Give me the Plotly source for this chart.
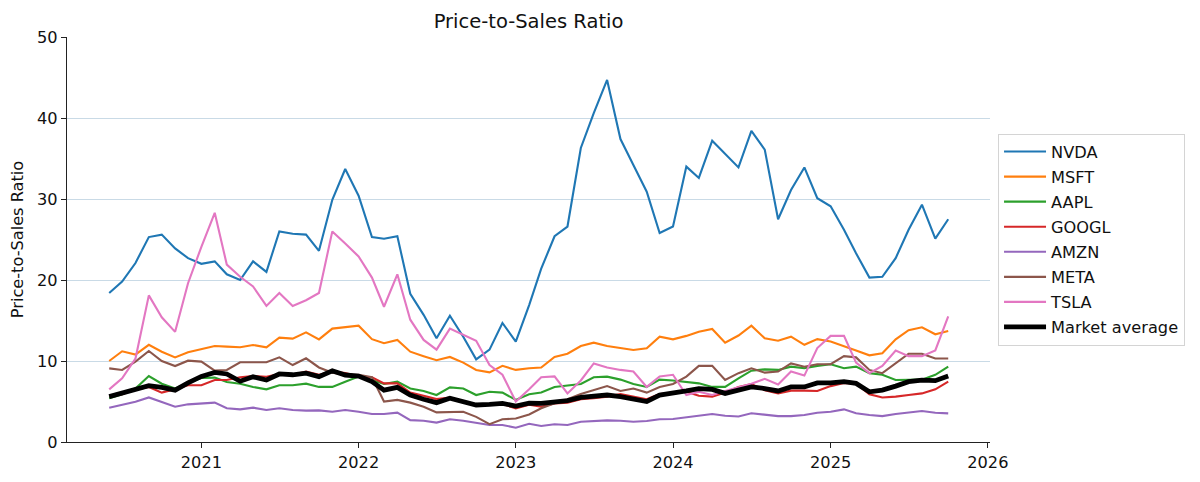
import pandas as pd
import plotly.graph_objects as go

dates = pd.date_range("2020-06-01", periods=65, freq="MS")

nvda = [18.4, 19.8, 22.1, 25.3, 25.6, 23.9, 22.7, 22.0, 22.3, 20.7,
        20.0, 22.3, 21.0, 26.0, 25.7, 25.6, 23.6, 29.9, 33.7, 30.4,
        25.3, 25.1, 25.4, 18.3, 15.7, 12.8, 15.6, 13.0, 10.2, 11.4,
        14.7, 12.4, 16.9, 21.4, 25.4, 26.6, 36.3, 40.6, 44.7, 37.4,
        34.2, 30.9, 25.8, 26.6, 34.0, 32.6, 37.2, 35.6, 33.9, 38.4,
        36.1, 27.5, 31.1, 33.9, 30.1, 29.1, 26.2, 23.3, 20.3, 20.4,
        22.7, 26.2, 29.3, 25.1, 27.5]
msft = [10.0, 11.2, 10.8, 12.0, 11.15, 10.45, 11.07, 11.48, 11.85, 11.77,
        11.69, 11.98, 11.69, 12.88, 12.76, 13.54, 12.67, 14.0, 14.16, 14.36,
        12.7, 12.2, 12.6, 11.15, 10.6, 10.1, 10.5, 9.8, 8.9, 8.6,
        9.4, 8.9, 9.1, 9.2, 10.5, 10.9, 11.85, 12.26, 11.85, 11.56,
        11.36, 11.56, 13.0, 12.67, 13.1, 13.6, 13.95, 12.26, 13.15, 14.36,
        12.8, 12.5, 13.0, 12.0, 12.7, 12.4, 11.85, 11.3, 10.7, 10.95,
        12.67, 13.8, 14.16, 13.3, 13.7]
aapl = [5.4, 5.9, 6.6, 8.15, 7.2, 6.6, 7.3, 7.9, 7.95, 7.4,
        7.2, 6.8, 6.5, 7.0, 7.0, 7.2, 6.8, 6.8, 7.45, 8.07,
        7.65, 7.16, 7.45, 6.6, 6.3, 5.8, 6.75, 6.6, 5.8, 6.2,
        6.1, 5.2, 5.9, 6.1, 6.8, 7.0, 7.16, 8.0, 8.07, 7.7,
        7.16, 6.8, 7.7, 7.6, 7.45, 7.24, 6.8, 6.8, 7.86, 8.8,
        8.97, 8.9, 9.3, 9.1, 9.4, 9.6, 9.1, 9.3, 8.5, 8.3,
        7.65, 7.65, 7.7, 8.3, 9.3]
googl = [5.7, 5.9, 6.5, 6.8, 6.1, 6.5, 7.0, 7.0, 7.65, 7.65,
         8.0, 8.15, 8.05, 8.4, 8.3, 8.7, 8.3, 8.7, 8.5, 8.07,
         8.0, 7.24, 7.24, 6.1, 5.7, 5.3, 5.5, 5.0, 4.6, 4.6,
         4.7, 4.15, 4.6, 4.36, 4.77, 4.86, 5.27, 5.4, 5.6, 5.93,
         5.6, 5.27, 5.93, 6.1, 6.2, 5.7, 5.6, 6.1, 6.8, 7.16,
         6.4, 6.0, 6.34, 6.34, 6.3, 6.9, 7.3, 7.2, 5.9, 5.5,
         5.6, 5.8, 6.0, 6.5, 7.45]
amzn = [4.24, 4.65, 4.98, 5.5, 4.9, 4.36, 4.65, 4.77, 4.86, 4.16,
        4.03, 4.24, 3.95, 4.16, 3.95, 3.87, 3.9, 3.74, 3.95, 3.74,
        3.46, 3.46, 3.62, 2.7, 2.63, 2.4, 2.8, 2.63, 2.4, 2.1,
        2.1, 1.77, 2.25, 1.98, 2.2, 2.1, 2.5, 2.6, 2.67, 2.63,
        2.5, 2.6, 2.8, 2.84, 3.05, 3.33, 3.46, 3.25, 3.15, 3.54,
        3.33, 3.2, 3.2, 3.33, 3.62, 3.74, 4.03, 3.54, 3.33, 3.2,
        3.46, 3.62, 3.83, 3.62, 3.54]
meta = [9.09, 8.89, 9.92, 11.23, 10.0, 9.38, 10.04, 9.92, 8.81, 8.89,
        9.84, 9.84, 9.84, 10.45, 9.5, 10.33, 9.2, 8.56, 8.3, 8.3,
        8.0, 5.0, 5.2, 4.86, 4.36, 3.66, 3.74, 3.74, 3.1, 2.2,
        2.8, 2.9, 3.4, 4.16, 4.77, 5.27, 5.93, 6.4, 6.9, 6.3,
        6.6, 6.1, 6.8, 7.16, 8.07, 9.4, 9.4, 7.65, 8.5, 9.1,
        8.56, 8.7, 9.7, 9.3, 9.6, 9.6, 10.6, 10.45, 8.9, 8.5,
        9.7, 10.9, 10.9, 10.3, 10.3]
tsla = [6.5, 7.86, 10.3, 18.1, 15.4, 13.6, 19.6, 24.1, 28.3, 21.9,
        20.4, 19.2, 16.8, 18.4, 16.8, 17.5, 18.4, 26.0, 24.5, 22.9,
        20.3, 16.7, 20.7, 15.1, 12.6, 11.4, 14.0, 13.2, 12.5, 9.5,
        8.3, 5.0, 6.5, 8.0, 8.1, 6.0, 7.6, 9.7, 9.2, 8.9,
        8.7, 6.8, 8.1, 8.3, 5.8, 6.2, 5.8, 6.3, 6.8, 7.2,
        7.8, 7.1, 8.7, 8.2, 11.6, 13.1, 13.1, 9.8, 8.5, 9.4,
        11.3, 10.6, 10.6, 11.3, 15.5]
market_avg = [5.6, 6.0, 6.4, 6.95, 6.75, 6.4, 7.3, 8.1, 8.6, 8.4,
              7.5, 8.05, 7.65, 8.4, 8.3, 8.5, 8.07, 8.8, 8.27, 8.15,
              7.45, 6.4, 6.75, 5.8, 5.27, 4.86, 5.4, 5.0, 4.57, 4.65,
              4.77, 4.44, 4.8, 4.77, 5.0, 5.1, 5.5, 5.7, 5.8, 5.6,
              5.27, 5.0, 5.8, 6.0, 6.3, 6.6, 6.5, 6.0, 6.4, 6.8,
              6.6, 6.3, 6.8, 6.8, 7.3, 7.3, 7.45, 7.24, 6.2, 6.4,
              6.9, 7.45, 7.65, 7.57, 8.15]

series = [("NVDA", nvda, "#1f77b4"), ("MSFT", msft, "#ff7f0e"),
          ("AAPL", aapl, "#2ca02c"), ("GOOGL", googl, "#d62728"),
          ("AMZN", amzn, "#9467bd"), ("META", meta, "#8c564b"),
          ("TSLA", tsla, "#e377c2")]

fig = go.Figure()
for name, vals, color in series:
    fig.add_trace(go.Scatter(x=dates, y=vals, mode="lines", name=name, legendgroup=name,
                             line=dict(color=color, width=2.1)))
fig.add_trace(go.Scatter(x=dates, y=market_avg, mode="lines", name="Market average",
                         legendgroup="avg", line=dict(color="black", width=4.8)))

# page body adds an 8px offset; the figure is sized to compensate
W, H = 1192, 474
font = "DejaVu Sans, Liberation Sans, sans-serif"
fs = 16.2
fig.update_layout(
    width=W, height=H,
    margin=dict(l=59, r=210, t=29, b=40),
    paper_bgcolor="white", plot_bgcolor="white",
    font=dict(family=font, size=fs, color="#111"),
    title=dict(text="Price-to-Sales Ratio", x=520.5 / W, xanchor="center",
               y=1 - 13 / H, yanchor="middle", font=dict(size=19.5, color="#111")),
    showlegend=True,
    legend=dict(x=1.0087, xanchor="left", y=0.5, yanchor="middle",
                bordercolor="#d4d4d4", borderwidth=1, bgcolor="white",
                font=dict(size=fs, color="#111"), tracegroupgap=1, itemwidth=42),
)
fig.update_xaxes(range=["2020-02-24", "2026-01-06"], automargin=False,
                 tickvals=["2021-01-01", "2022-01-01", "2023-01-01", "2024-01-01",
                           "2025-01-01", "2026-01-01"],
                 ticktext=["2021", "2022", "2023", "2024", "2025", "2026"],
                 showgrid=False, zeroline=False, showline=True, linecolor="#222",
                 linewidth=1.3, ticks="outside", ticklen=5, tickcolor="#222",
                 tickfont=dict(size=fs))
fig.update_yaxes(range=[0, 50], tickvals=[0, 10, 20, 30, 40, 50], automargin=False,
                 showgrid=True, gridcolor="#c9dae6", gridwidth=1.2,
                 zeroline=False, showline=True, linecolor="#222", linewidth=1.3,
                 ticks="outside", ticklen=5, tickcolor="#222",
                 tickfont=dict(size=fs),
                 title=dict(text="Price-to-Sales Ratio", font=dict(size=fs), standoff=10))

fig.write_html("out.html")
